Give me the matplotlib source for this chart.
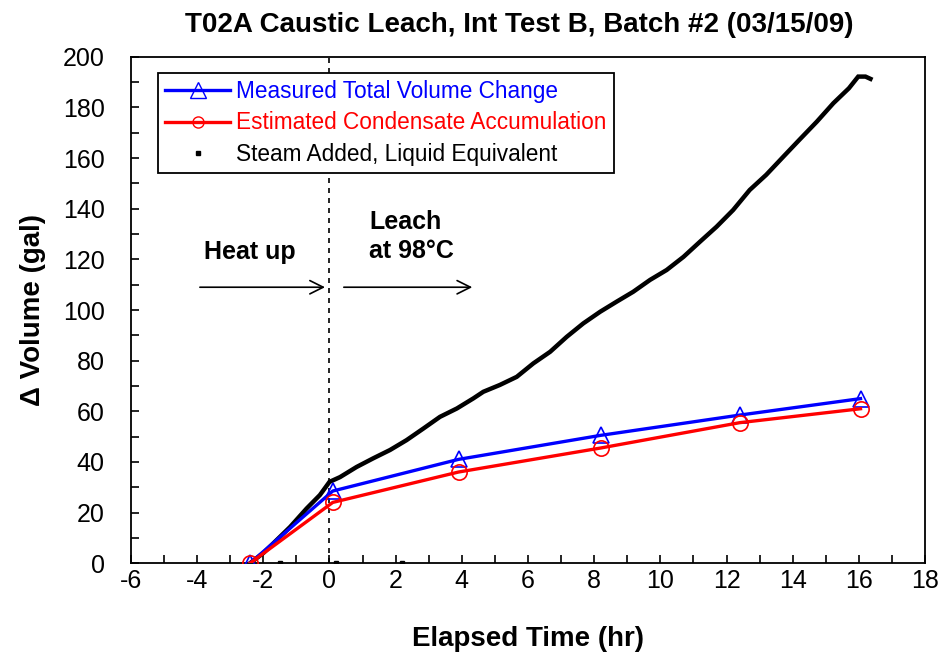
import numpy as np
import matplotlib
matplotlib.use("Agg")
import matplotlib.pyplot as plt

plt.rcParams['font.family'] = ['Liberation Sans', 'DejaVu Sans']
plt.rcParams['axes.unicode_minus'] = False

# sample times (hr) and volumes (gal)
t_samples = [-2.4, 0.1, 3.9, 8.2, 12.4, 16.05]
measured = [0.0, 28.5, 41.0, 50.5, 58.5, 65.0]
condensate = [0.0, 24.0, 36.0, 45.5, 55.5, 61.0]

# steam added, liquid equivalent
steam_t = [-2.4, -2.0, -1.7, -1.19, -0.69, -0.29, 0.0, 0.32, 0.82, 1.32, 1.83,
           2.33, 2.84, 3.34, 3.85, 4.35, 4.65, 5.15, 5.66, 6.16, 6.67, 7.17,
           7.67, 8.18, 8.68, 9.18, 9.69, 10.19, 10.7, 11.2, 11.7, 12.2, 12.7,
           13.2, 13.72, 14.2, 14.73, 15.23, 15.7, 15.98, 16.2, 16.35]
steam_v = [0.0, 4.0, 7.8, 14.3, 21.6, 26.9, 32.1, 34.0, 38.0, 41.4, 44.7,
           48.6, 53.2, 57.8, 61.1, 65.1, 67.7, 70.4, 73.6, 78.9, 83.5, 89.4,
           94.7, 99.3, 103.3, 107.2, 111.9, 115.8, 121.0, 127.0, 132.9, 139.5, 147.4,
           153.4, 160.6, 167.2, 174.4, 181.7, 187.6, 192.2, 192.2, 191.3]
stray_t = [-1.5, 0.2, 2.2]
stray_v = [0.0, 0.0, 0.0]

fig = plt.figure(figsize=(9.42, 6.61), dpi=100)
ax = fig.add_axes([0.139, 0.148, 0.843, 0.766])

ax.plot(steam_t, steam_v, color='black', lw=3.2, solid_joinstyle='miter', zorder=2)
ax.plot(stray_t, stray_v, ls='none', marker='s', ms=2.5, color='black', zorder=2)
ax.plot(t_samples, measured, color='blue', lw=2.4, marker='^', ms=12,
        mfc='none', mec='blue', mew=1.2, zorder=3)
ax.plot(t_samples, condensate, color='red', lw=2.4, marker='o', ms=11,
        mfc='none', mec='red', mew=1.2, zorder=3)

ax.axvline(0, color='black', lw=1.2, ls=(0, (3, 3)), zorder=1)

ax.set_xlim(-6, 18)
ax.set_ylim(0, 200)
ax.set_xticks(np.arange(-6, 19, 2))
ax.set_xticks(np.arange(-6, 19, 1), minor=True)
ax.set_yticks(np.arange(0, 201, 20))
ax.set_yticks(np.arange(0, 201, 10), minor=True)
ax.tick_params(which='both', direction='in', length=6, width=1.2,
               labelsize=18)
ax.tick_params(axis='x', which='both', pad=4)
ax.tick_params(axis='y', which='both', pad=19)
for s in ax.spines.values():
    s.set_linewidth(1.3)

ax.set_xlabel('Elapsed Time (hr)', fontsize=20, fontweight='bold', labelpad=24)
ax.set_ylabel('Δ Volume (gal)', fontsize=20, fontweight='bold', labelpad=12)
fig.suptitle('T02A Caustic Leach, Int Test B, Batch #2 (03/15/09)',
             fontsize=20, fontweight='bold', y=0.982, x=0.551)

ax.text(-2.4, 123, 'Heat up', fontsize=18, fontweight='bold', ha='center', va='center')
ax.text(1.2, 129, 'Leach\nat 98°C', fontsize=18, fontweight='bold',
        ha='left', va='center', multialignment='left', linespacing=1.25)
ax.annotate('', xy=(-0.05, 109), xytext=(-4.0, 109),
            arrowprops=dict(arrowstyle='->', color='black', lw=1.2,
                            mutation_scale=24))
ax.annotate('', xy=(4.4, 109), xytext=(0.35, 109),
            arrowprops=dict(arrowstyle='->', color='black', lw=1.2,
                            mutation_scale=24))

h1, = ax.plot([], [], color='blue', lw=2.4, marker='^', ms=11, mfc='none', mec='blue')
h2, = ax.plot([], [], color='red', lw=2.4, marker='o', ms=8, mfc='none', mec='red')
h3, = ax.plot([], [], ls='none', marker='s', ms=2.5, color='black')
leg = ax.legend([h1, h2, h3],
                ['Measured Total Volume Change', 'Estimated Condensate Accumulation',
                 'Steam Added, Liquid Equivalent'],
                loc='upper left', bbox_to_anchor=(0.034, 0.968), fontsize=16.3,
                frameon=True, fancybox=False, edgecolor='black', framealpha=1,
                handlelength=2.9, handletextpad=0.27, borderpad=0.3,
                labelspacing=0.38, borderaxespad=0)
leg.get_frame().set_linewidth(1.3)
for txt, c in zip(leg.get_texts(), ['blue', 'red', 'black']):
    txt.set_color(c)

fig.savefig('out.png', dpi=100)
